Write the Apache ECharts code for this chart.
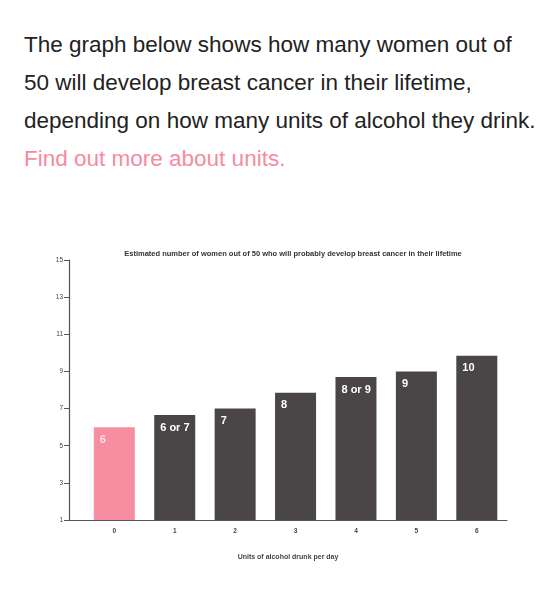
<!DOCTYPE html>
<html><head><meta charset="utf-8">
<script src="https://cdn.jsdelivr.net/npm/echarts@6/dist/echarts.min.js"></script>
<style>
body{margin:0;background:#fff;width:554px;height:600px;overflow:hidden;position:relative}
#t{position:absolute;left:24px;top:26px;width:514px;font-family:"Liberation Sans",Arial,sans-serif;font-size:22.5px;line-height:38px;color:#222}
#t a{color:#f58ba0;text-decoration:none}
#c{position:absolute;left:0;top:230px;width:554px;height:370px}
</style></head><body>
<div id="t">The graph below shows how many women out of 50 will develop breast cancer in their lifetime, depending on how many units of alcohol they drink. <a>Find out more about units.</a></div>
<div id="c"></div>
<script>
const categories=[0,1,2,3,4,5,6];
const values=[6,6.65,7,7.85,8.7,9,9.85];
const labels=['6','6 or 7','7','8','8 or 9','9','10'];
const yTicks=[1,3,5,7,9,11,13,15];
const chart=echarts.init(document.getElementById('c'));
chart.setOption({
 animation:false,
 title:{text:'Estimated number of women out of 50 who will probably develop breast cancer in their lifetime',left:288,top:15,textAlign:'center',textStyle:{fontSize:7.5,fontWeight:'bold',color:'#333',fontFamily:'Liberation Sans'}},
 grid:{left:69,right:47,top:30,bottom:80},
 xAxis:{type:'value',min:-0.75,max:6.5,interval:0.25,
  name:'Units of alcohol drunk per day',nameLocation:'middle',nameGap:34,
  nameTextStyle:{fontSize:7,fontWeight:'bold',color:'#444',fontFamily:'Liberation Sans'},
  axisLine:{onZero:false,lineStyle:{color:'#555',width:1.2}},axisTick:{show:false},splitLine:{show:false},
  axisLabel:{fontSize:6.5,fontWeight:'bold',color:'#444',margin:8,showMinLabel:true,showMaxLabel:false,
   formatter:v=>Number.isInteger(v)&&categories.includes(v)?String(v):''}},
 yAxis:{type:'value',min:1,max:15,interval:2,
  axisLine:{show:true,onZero:false,lineStyle:{color:'#555',width:1.2}},axisTick:{show:true,length:5,lineStyle:{color:'#555'}},
  splitLine:{show:false},axisLabel:{fontSize:6.5,color:'#444',margin:6}},
 series:[{type:'bar',barWidth:41,
  data:categories.map((c,i)=>({value:[c,values[i]],itemStyle:{color:i===0?'#f68da1':'#4a4647'},
   label:{show:true,position:'insideTopLeft',offset:[1,2],formatter:labels[i],color:i===0?'#fde':'#fff',fontSize:11,fontWeight:'bold',fontFamily:'Liberation Sans'}}))}]
});
</script></body></html>
